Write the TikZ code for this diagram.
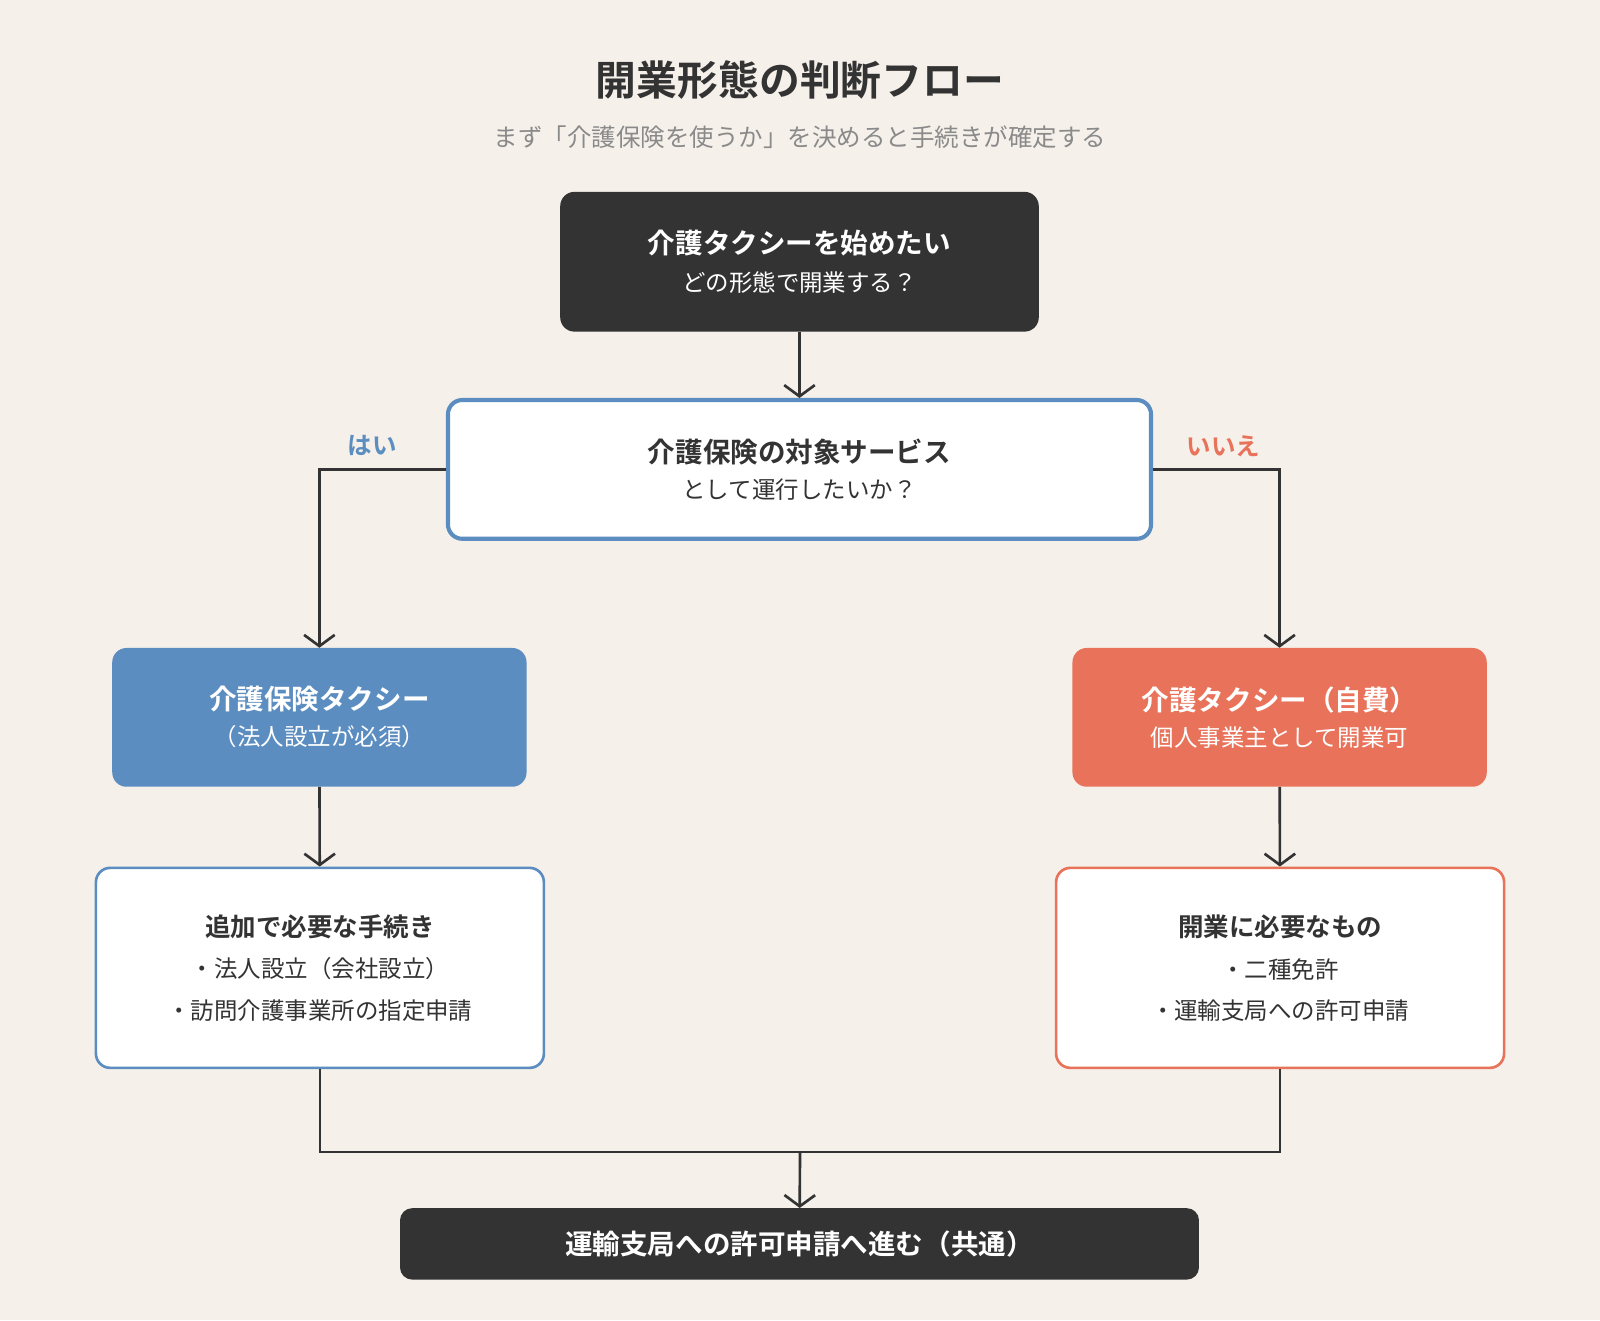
\documentclass[tikz,border=0pt]{standalone}
\usepackage{fontspec}
\setmainfont{Noto Sans CJK JP}[BoldFont={Noto Sans CJK JP Bold}]
\usetikzlibrary{arrows.meta,positioning}
\definecolor{bg}{HTML}{F5F0EA}
\definecolor{ink}{HTML}{333333}
\definecolor{yesblue}{HTML}{5B8DC0}
\definecolor{nored}{HTML}{E8735A}
\definecolor{subgray}{HTML}{8A8A8A}
\newcommand{\headtxt}[1]{{\fontsize{27}{32}\selectfont\bfseries #1}}
\newcommand{\subtxt}[1]{{\fontsize{23}{28}\selectfont #1}}
\begin{document}
\begin{tikzpicture}[x=1pt,y=-1pt,
  box/.style={rectangle,rounded corners=14pt,align=center,inner sep=0pt},
  darkbox/.style={box,fill=ink,text=white},
  flow/.style={draw=ink,line width=2.6pt},
  arr/.style={flow,-{Straight Barb[length=11pt,width=30pt,line width=2.6pt]}}]

  \fill[bg] (0,0) rectangle (1568,1294);

  \node (title) at (784,78) {\fontsize{40}{44}\selectfont\bfseries\color{ink}開業形態の判断フロー};
  \node (subtitle) at (784,134) {\fontsize{24}{28}\selectfont\color{subgray}まず「介護保険を使うか」を決めると手続きが確定する};

  \node[darkbox,minimum width=469pt,minimum height=137pt] (start) at (783.5,256.5)
    {\headtxt{介護タクシーを始めたい}\\[14pt]\subtxt{どの形態で開業する？}};
  \node[box,fill=white,draw=yesblue,line width=4pt,text=ink,minimum width=689pt,minimum height=136pt] (ask) at (783.5,460)
    {\headtxt{介護保険の対象サービス}\\[12pt]\subtxt{として運行したいか？}};

  \node[box,fill=yesblue,text=white,minimum width=406pt,minimum height=136pt] (ins) at (313,703)
    {\headtxt{介護保険タクシー}\\[12pt]\subtxt{（法人設立が必須）}};
  \node[box,fill=nored,text=white,minimum width=406pt,minimum height=136pt] (self) at (1254,703)
    {\headtxt{介護タクシー（自費）}\\[12pt]\subtxt{個人事業主として開業可}};

  \node[box,fill=white,draw=yesblue,line width=2.6pt,text=ink,minimum width=439pt,minimum height=196pt] (insreq) at (313.5,948.5)
    {{\fontsize{25}{30}\selectfont\bfseries 追加で必要な手続き}\\[18pt]\subtxt{・法人設立（会社設立）}\\[18pt]\subtxt{・訪問介護事業所の指定申請}};
  \node[box,fill=white,draw=nored,line width=2.6pt,text=ink,minimum width=439pt,minimum height=196pt] (selfreq) at (1254.5,948.5)
    {{\fontsize{25}{30}\selectfont\bfseries 開業に必要なもの}\\[18pt]\subtxt{・二種免許}\\[18pt]\subtxt{・運輸支局への許可申請}};

  \node[darkbox,rounded corners=12pt,minimum width=783pt,minimum height=70pt] (final) at (783.5,1219)
    {\headtxt{運輸支局への許可申請へ進む（共通）}};

  \node[text=yesblue] (yes) at (365,437) {\fontsize{24}{28}\selectfont\bfseries はい};
  \node[text=nored] (no) at (1199,437) {\fontsize{24}{28}\selectfont\bfseries いいえ};

  \coordinate (join) at (784,1129);

  \draw[arr] (start) -- (ask);
  \draw[arr] (ask.west) -| (ins.north);
  \draw[arr] (ask.east) -| (self.north);
  \draw[arr] (ins) -- (insreq);
  \draw[arr] (self) -- (selfreq);
  \draw[flow] (insreq.south) |- (join) -| (selfreq.south);
  \draw[arr] (join) -- (final);
\end{tikzpicture}
\end{document}
